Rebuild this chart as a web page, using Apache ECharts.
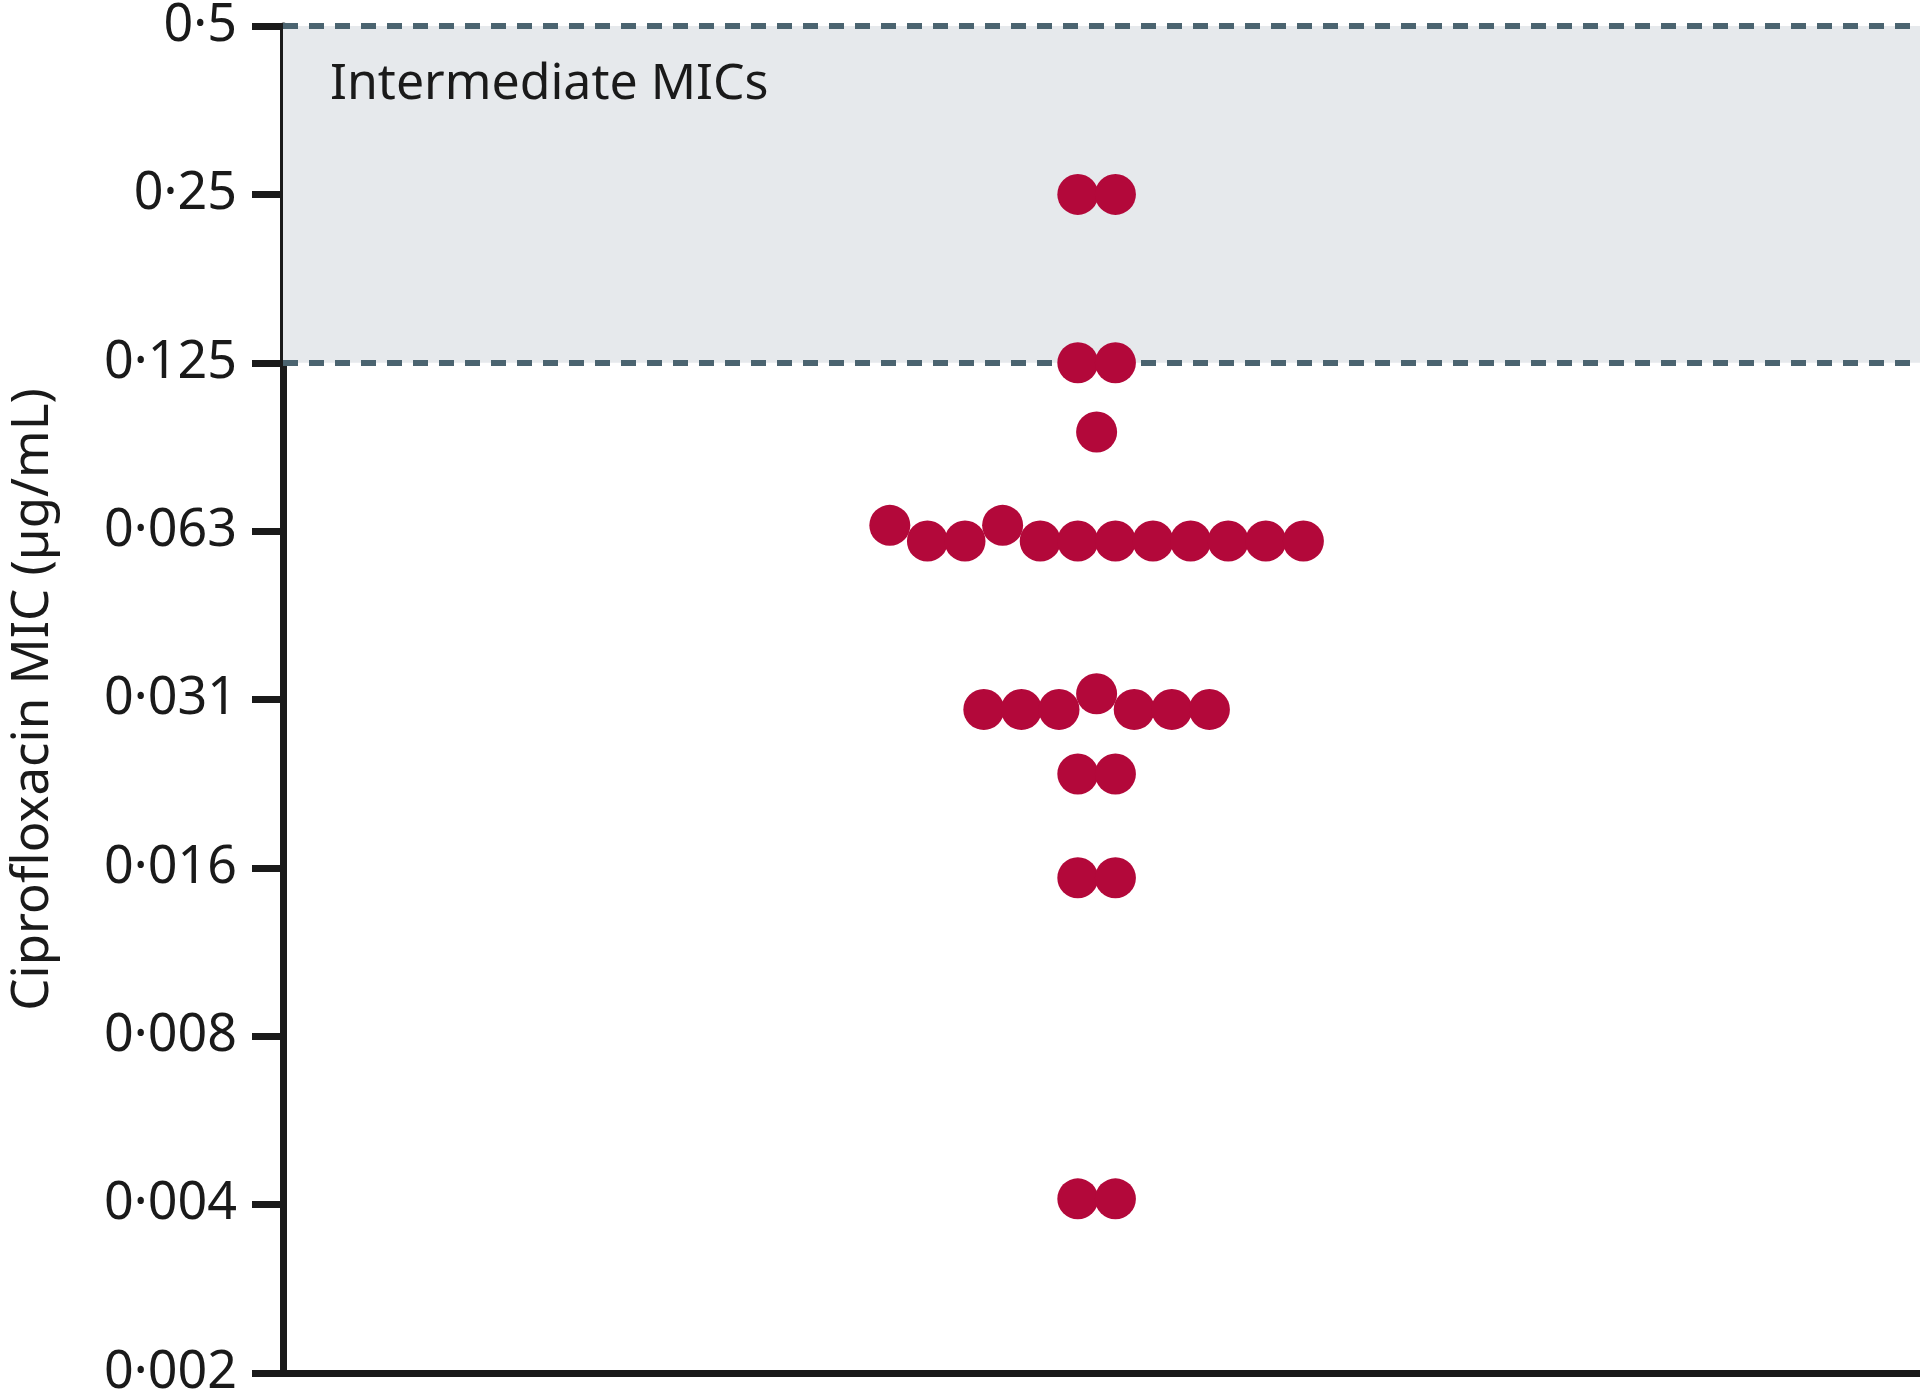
<!DOCTYPE html>
<html lang="en">
  <head>
    <meta charset="UTF-8" />
    <title>Ciprofloxacin MIC</title>
    <script src="https://cdn.jsdelivr.net/npm/echarts@6/dist/echarts.min.js"></script>
    <style>
      html, body { margin: 0; padding: 0; background: #fff; }
    </style>
  </head>
  <body>
    <div id="main" style="width: 1920px; height: 1399px"></div>
  </body>
</html>
<script>
  // one array per row of the dot plot, isolates ordered left to right (MIC, µg/mL)
  var row025 = [0.25, 0.25]
  var row0125 = [0.125, 0.125]
  var row0094 = [0.094]
  var row0063 = [0.064, 0.06, 0.06, 0.064, 0.06, 0.06, 0.06, 0.06, 0.06, 0.06, 0.06, 0.06]
  var row0031 = [0.03, 0.03, 0.03, 0.032, 0.03, 0.03, 0.03]
  var row0023 = [0.023, 0.023]
  var row0016 = [0.015, 0.015]
  var row0004 = [0.004, 0.004]

  var rows = [row025, row0125, row0094, row0063, row0031, row0023, row0016, row0004]

  // tick labels for 2^-9 ... 2^-1
  var tickLabels = ['0·002', '0·004', '0·008', '0·016', '0·031', '0·063', '0·125', '0·25', '0·5']

  var intermediateRange = [0.125, 0.5]

  // dots in a row sit side by side, centred on the strip
  var points = []
  rows.forEach(function (row) {
    row.forEach(function (mic, i) {
      points.push([i - (row.length - 1) / 2, mic])
    })
  })

  var font = 'Noto Sans'
  var ink = '#1a1a1a'

  var chartInstance = echarts.init(document.getElementById('main'))

  var option = {
    animation: false,
    grid: { left: 278, right: 0, top: 17.4, bottom: 21.5 },
    xAxis: {
      type: 'value',
      min: -21.64,
      max: 21.9,
      axisLine: { show: true, onZero: false, lineStyle: { color: ink, width: 7 } },
      axisTick: { show: false },
      axisLabel: { show: false },
      splitLine: { show: false }
    },
    yAxis: {
      type: 'log',
      logBase: 2,
      min: 1 / 512,
      max: 0.5,
      interval: 1,
      name: 'Ciprofloxacin MIC (µg/mL)',
      nameLocation: 'middle',
      nameGap: 224,
      nameTextStyle: { fontFamily: font, fontSize: 51, color: ink },
      axisLine: { show: true, onZero: false, lineStyle: { color: ink, width: 7 } },
      axisTick: { show: true, inside: false, length: 31, lineStyle: { color: ink, width: 7 } },
      axisLabel: {
        margin: 46,
        fontFamily: font,
        fontSize: 52,
        color: ink,
        formatter: function (v) {
          return tickLabels[Math.round(Math.log2(v)) + 9]
        }
      },
      splitLine: { show: false }
    },
    series: [
      {
        type: 'line',
        data: [],
        z: 1,
        markArea: {
          silent: true,
          itemStyle: { color: '#e6e9ec' },
          label: {
            show: true,
            position: [47, 34],
            fontFamily: font,
            fontSize: 50,
            color: ink
          },
          data: [[{ name: 'Intermediate MICs', yAxis: intermediateRange[0] }, { yAxis: intermediateRange[1] }]]
        },
        markLine: {
          silent: true,
          symbol: 'none',
          precision: 6,
          label: { show: false },
          lineStyle: { color: '#4b6470', width: 6, type: [15, 11] },
          data: [{ yAxis: intermediateRange[1] }, { yAxis: intermediateRange[0] }]
        }
      },
      {
        type: 'scatter',
        z: 5,
        symbol: 'circle',
        symbolSize: 41,
        itemStyle: { color: '#b3083a', opacity: 1 },
        data: points
      }
    ]
  }

  chartInstance.setOption(option)
</script>
